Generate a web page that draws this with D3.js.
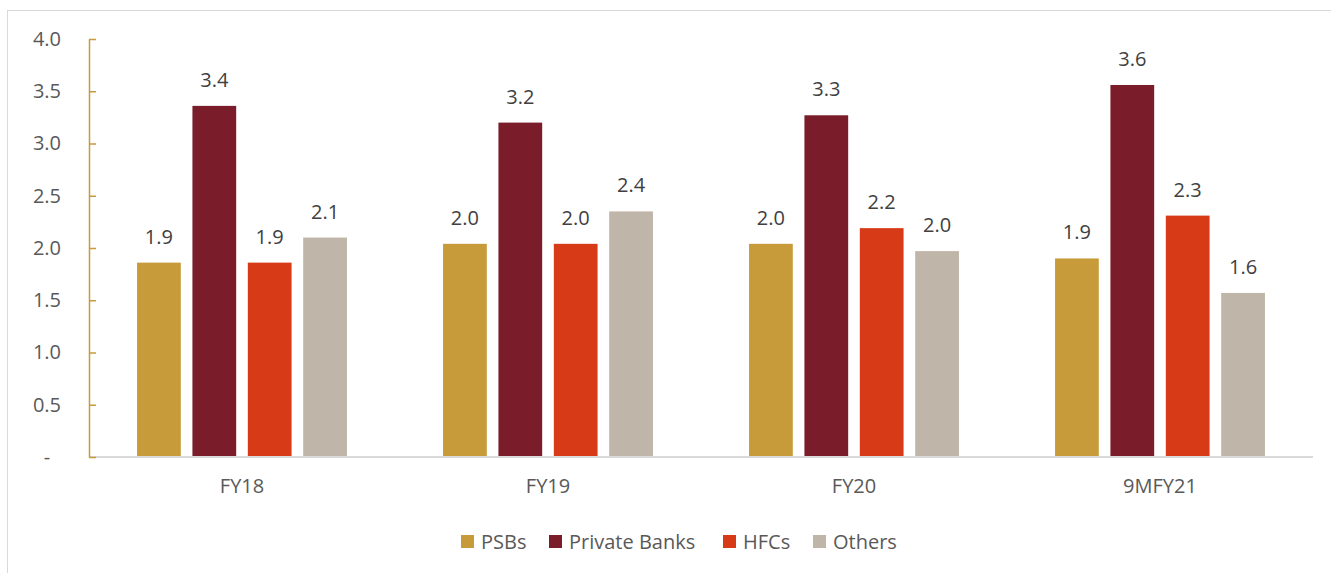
<!DOCTYPE html>
<html>
<head>
<meta charset="utf-8">
<script src="https://cdn.jsdelivr.net/npm/d3@7"></script>
<style>
  body { margin: 0; background: #fff; }
  svg text { font-family: "Open Sans", "Noto Sans", sans-serif; fill: #595959; }
</style>
</head>
<body>
<svg id="chart" width="1331" height="573"></svg>
<script>
// chart data
var categories = ["FY18", "FY19", "FY20", "9MFY21"];
var seriesNames = ["PSBs", "Private Banks", "HFCs", "Others"];
var psbs = [1.86, 2.04, 2.04, 1.90];
var privateBanks = [3.36, 3.20, 3.27, 3.56];
var hfcs = [1.86, 2.04, 2.19, 2.31];
var others = [2.10, 2.35, 1.97, 1.57];
var yTicks = [0, 0.5, 1.0, 1.5, 2.0, 2.5, 3.0, 3.5, 4.0];
var colors = ["#C89B3A", "#7B1C2A", "#D63A17", "#BFB5A8"];

var values = [psbs, privateBanks, hfcs, others];

var svg = d3.select("#chart");

// outer frame (only left and top edges are visible)
svg.append("rect")
    .attr("x", 7.5).attr("y", 10.5)
    .attr("width", 1400).attr("height", 700)
    .attr("fill", "none")
    .attr("stroke", "#d9d9d9");

var margin = {left: 89, right: 1313, top: 39, bottom: 457};

var x0 = d3.scaleBand()
    .domain(categories)
    .range([margin.left, margin.right])
    .paddingInner(0.314)
    .paddingOuter(0.157);

var x1 = d3.scaleBand()
    .domain(seriesNames)
    .range([0, x0.bandwidth()])
    .paddingInner(0.21)
    .paddingOuter(0);

var y = d3.scaleLinear()
    .domain([0, 4])
    .range([margin.bottom, margin.top]);

// bars
var groups = svg.append("g").selectAll("g")
    .data(categories)
    .join("g")
    .attr("transform", function (d) { return "translate(" + x0(d) + ",0)"; });

groups.selectAll("rect")
    .data(function (d, i) {
        return seriesNames.map(function (s, j) { return {s: s, v: values[j][i], c: colors[j]}; });
    })
    .join("rect")
    .attr("x", function (d) { return x1(d.s); })
    .attr("y", function (d) { return y(d.v); })
    .attr("width", x1.bandwidth())
    .attr("height", function (d) { return y(0) - y(d.v); })
    .attr("fill", function (d) { return d.c; });

groups.selectAll("text")
    .data(function (d, i) {
        return seriesNames.map(function (s, j) { return {s: s, v: values[j][i]}; });
    })
    .join("text")
    .attr("x", function (d) { return x1(d.s) + x1.bandwidth() / 2; })
    .attr("y", function (d) { return y(d.v) - 19; })
    .attr("text-anchor", "middle")
    .attr("font-size", 20)
    .style("fill", "#404040")
    .text(function (d) { return d3.format(".1f")(d.v); });

// x axis
var xAxis = svg.append("g")
    .attr("transform", "translate(0," + margin.bottom + ")")
    .call(d3.axisBottom(x0).tickSize(0).tickPadding(22).tickSizeOuter(0));
xAxis.select(".domain").attr("stroke", "#d9d9d9").attr("stroke-width", 2)
    .attr("d", "M" + margin.left + ",0H" + margin.right);
xAxis.selectAll("text").attr("font-size", 20).attr("font-family", null);

// y axis
var yAxis = svg.append("g")
    .attr("transform", "translate(" + margin.left + ",0)")
    .call(d3.axisRight(y).tickValues(yTicks).tickSize(7).tickSizeOuter(0)
        .tickFormat(function (d) { return d === 0 ? "-" : d3.format(".1f")(d); }));
yAxis.select(".domain").attr("stroke", "#C89B3A").attr("stroke-width", 1.5);
yAxis.selectAll(".tick line").attr("stroke", "#C89B3A").attr("stroke-width", 1.5);
yAxis.selectAll(".tick text")
    .attr("x", -28)
    .attr("text-anchor", "end")
    .attr("font-size", 20)
    .attr("font-family", null);
yAxis.selectAll(".tick text").filter(function (d) { return d === 0; })
    .attr("x", -42).attr("text-anchor", "middle");

// legend
var legendX = [461, 549, 723, 813];
var legend = svg.append("g").selectAll("g")
    .data(seriesNames)
    .join("g")
    .attr("transform", function (d, i) { return "translate(" + legendX[i] + ",535)"; });
legend.append("rect")
    .attr("width", 13).attr("height", 13)
    .attr("fill", function (d, i) { return colors[i]; });
legend.append("text")
    .attr("x", 20).attr("y", 14)
    .attr("font-size", 20)
    .text(function (d) { return d; });
</script>
</body>
</html>
